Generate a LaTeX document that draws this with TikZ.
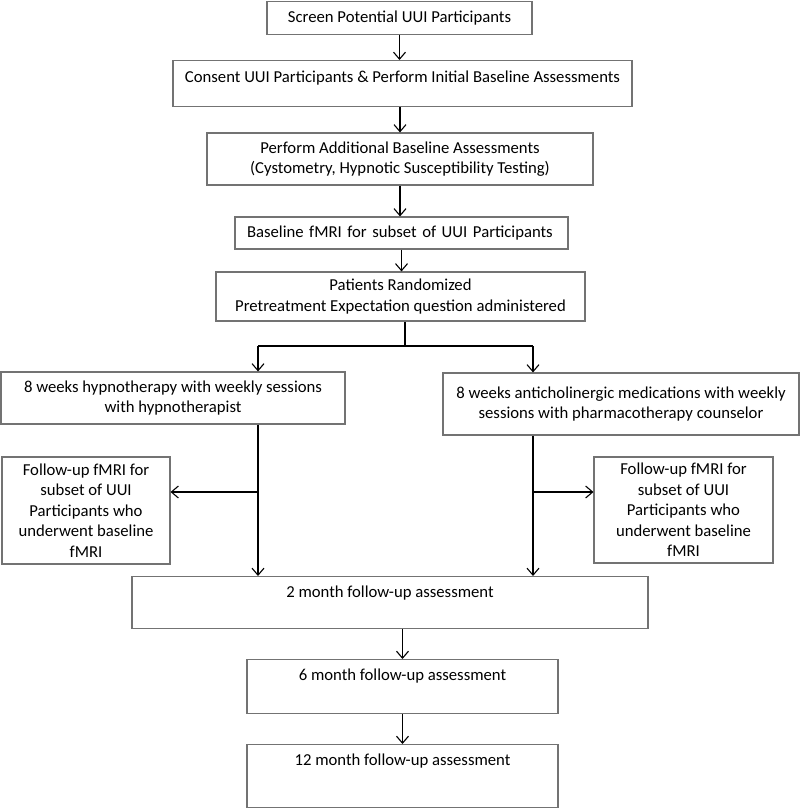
\documentclass[tikz,border=0pt]{standalone}
\usepackage{fontspec}
\setmainfont{Carlito}
\usetikzlibrary{arrows.meta,positioning,calc}

\begin{document}
\begin{tikzpicture}
        [x=1pt,y=-1pt,>={Straight Barb[length=7pt,width=12pt]},
        box/.style={draw=black!55,line width=1.1pt,rectangle,align=center,
            font=\fontsize{16.7}{20.5}\selectfont,inner sep=0pt},
        topbox/.style 2 args={text height=#1pt,text depth=#2pt},
        link/.style={->,line width=1.1pt}]

        \useasboundingbox (0,0) rectangle (800,808);

        % trial steps before randomization
        \node[box,anchor=north,minimum width=265pt,minimum height=33pt] (screen) at (399.5,0.6)
            {Screen Potential UUI Participants};
        \node[box,anchor=north,minimum width=459pt,topbox={22}{24}] (consent) at (402.5,60)
            {Consent UUI Participants \& Perform Initial Baseline Assessments};
        \node[box,minimum width=386pt,minimum height=52pt] (additional) at (400,159)
            {Perform Additional Baseline Assessments\\(Cystometry, Hypnotic Susceptibility Testing)};
        \node[box,align=left,text width=309pt,inner xsep=12pt,minimum height=32pt] (basefmri) at (401.5,233)
            {Baseline fMRI for subset of UUI Participants};
        \node[box,minimum width=369pt,minimum height=49pt] (randomized) at (400.5,296.5)
            {Patients Randomized\\Pretreatment Expectation question administered};

        % the two arms
        \node[box,minimum width=344pt,minimum height=52pt] (hypno) at (173,398)
            {8 weeks hypnotherapy with weekly sessions\\with hypnotherapist};
        \node[box,minimum width=356pt,minimum height=62pt] (anticho) at (621,404)
            {8 weeks anticholinergic medications with weekly\\sessions with pharmacotherapy counselor};
        \node[box,minimum width=168pt,minimum height=107pt] (fmriL) at (86,510.5)
            {Follow-up fMRI for\\subset of UUI\\Participants who\\underwent baseline\\fMRI};
        \node[box,minimum width=179pt,minimum height=106pt] (fmriR) at (683.5,510)
            {Follow-up fMRI for\\subset of UUI\\Participants who\\underwent baseline\\fMRI};

        % follow-up
        \node[box,anchor=north,minimum width=516pt,topbox={21}{31}] (twomonth) at (390,576)
            {2 month follow-up assessment};
        \node[box,anchor=north,minimum width=311pt,topbox={21}{33}] (sixmonth) at (402.5,659)
            {6 month follow-up assessment};
        \node[box,anchor=north,minimum width=311pt,topbox={21}{42}] (twelvemonth) at (402.5,744)
            {12 month follow-up assessment};

        \coordinate (split) at (405,346);
        \coordinate (hypL) at (258,346);
        \coordinate (antR) at (533,346);
        \coordinate (branchL) at (258,492);
        \coordinate (branchR) at (533,492);

        \draw[link] (screen.south) -- (screen.south |- consent.north);
        \draw[link] (additional.north |- consent.south) -- (additional.north);
        \draw[link] (additional.south) -- (additional.south |- basefmri.north);
        \draw[link] (basefmri.south) -- (basefmri.south |- randomized.north);

        \draw[line width=1.1pt] (split |- randomized.south) -- (split);
        \draw[line width=1.1pt] (hypL) -- (antR);
        \draw[link] (hypL) -- (hypL |- hypno.north);
        \draw[link] (antR) -- (antR |- anticho.north);

        \draw[link] (hypL |- hypno.south) -- (hypL |- twomonth.north);
        \draw[link] (antR |- anticho.south) -- (antR |- twomonth.north);
        \draw[link] (branchL) -- (branchL -| fmriL.east);
        \draw[link] (branchR) -- (branchR -| fmriR.west);

        \draw[link] (sixmonth.north |- twomonth.south) -- (sixmonth.north);
        \draw[link] (sixmonth.south) -- (twelvemonth.north);

    \end{tikzpicture}
\end{document}
